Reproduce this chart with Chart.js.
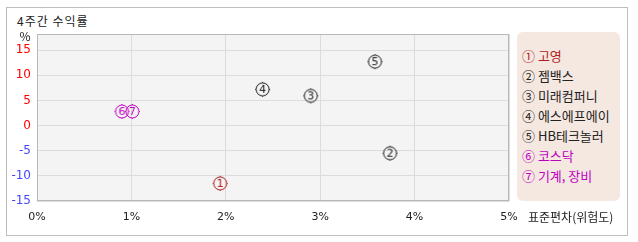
<!DOCTYPE html>
<html>
<head>
<meta charset="utf-8">
<script src="https://cdn.jsdelivr.net/npm/chart.js@4.4.1/dist/chart.umd.min.js"></script>
<style>
    body { margin: 0; background: #fff; font-family: "Noto Sans CJK KR", sans-serif; }
    #wrap { position: relative; width: 638px; height: 242px; }
    #frame { position: absolute; left: 6px; top: 7px; width: 620px; height: 227px; border: 1px solid #bdbdbd; }
    #title { position: absolute; left: 17px; top: 12px; font-size: 12px; line-height: 18px; color: #222; letter-spacing: 1px; }
    #legend { position: absolute; left: 517px; top: 32px; width: 103px; height: 169px; border-radius: 6px; background: #f5e8e1; }
    #legend div { position: absolute; left: 5px; font-size: 13px; line-height: 20px; white-space: nowrap; }
    canvas { position: absolute; left: 0; top: 0; }
</style>
</head>
<body>
<div id="wrap">
    <div id="frame"></div>
    <div id="title">4주간 수익률</div>
    <canvas id="c_scatter" width="638" height="242"></canvas>
    <div id="legend"></div>
</div>
<script>
// data
const names = ['고영', '젬백스', '미래컴퍼니', '에스에프에이', 'HB테크놀러', '코스닥', '기계, 장비']
const marks = ['①', '②', '③', '④', '⑤', '⑥', '⑦']
const riskX = [1.94, 3.74, 2.90, 2.39, 3.58, 0.90, 1.01]   // 표준편차 %
const returnY = [-11.5, -5.5, 5.9, 7.2, 12.7, 2.8, 2.8]     // 수익률 %
const pointColors = ['#b01c1c', '#222222', '#222222', '#222222', '#222222', '#c000c0', '#c000c0']
const xTicks = [0, 1, 2, 3, 4, 5]
const yTicks = [-15, -10, -5, 0, 5, 10, 15]
const xTitle = '표준편차(위험도)'
const yUnit = '%'

// legend (html)
const legendEl = document.getElementById('legend')
names.forEach(function (n, i) {
    let d = document.createElement('div')
    d.style.top = (14 + i * 20) + 'px'
    d.style.color = pointColors[i]
    d.textContent = marks[i] + ' ' + n
    legendEl.appendChild(d)
})

// circled number marker with little ticks
function makeMarker(num, color) {
    let c = document.createElement('canvas')
    c.width = 19
    c.height = 19
    let g = c.getContext('2d')
    g.strokeStyle = color
    g.fillStyle = color
    g.lineWidth = 1
    g.beginPath()
    g.arc(9.5, 9.5, 6.5, 0, Math.PI * 2)
    g.stroke()
    g.beginPath()
    g.moveTo(9.5, 2); g.lineTo(9.5, 3)
    g.moveTo(9.5, 16); g.lineTo(9.5, 17)
    g.moveTo(2, 9.5); g.lineTo(3, 9.5)
    g.moveTo(16, 9.5); g.lineTo(17, 9.5)
    g.stroke()
    g.font = '11px "DejaVu Sans", sans-serif'
    g.textAlign = 'center'
    g.textBaseline = 'middle'
    g.fillText(String(num), 9.5, 10)
    return c
}
const markerImgs = names.map((n, i) => makeMarker(i + 1, pointColors[i]))

const plotDeco = {
    id: 'plotDeco',
    beforeDraw(chart) {
        const a = chart.chartArea, ctx = chart.ctx
        ctx.save()
        ctx.fillStyle = '#f4f4f4'
        ctx.fillRect(a.left, a.top, a.right - a.left, a.bottom - a.top)
        ctx.restore()
    },
    afterDatasetsDraw(chart) {
        const a = chart.chartArea, ctx = chart.ctx
        ctx.save()
        ctx.strokeStyle = '#b8b8b8'
        ctx.lineWidth = 1
        ctx.strokeRect(a.left + 0.5, a.top + 0.5, a.right - a.left - 1, a.bottom - a.top - 1)
        ctx.font = '12px "Noto Sans CJK KR", sans-serif'
        ctx.fillStyle = '#222'
        ctx.textBaseline = 'middle'
        ctx.fillText(xTitle, a.right + 19, a.bottom + 16)
        ctx.textAlign = 'center'
        ctx.fillText(yUnit, a.left - 12, a.top + 2)
        ctx.restore()
    }
}

const ctx = document.getElementById('c_scatter').getContext('2d')
new Chart(ctx, {
    type: 'scatter',
    data: {
        datasets: [{
            data: riskX.map((x, i) => ({ x: x, y: returnY[i] })),
            pointStyle: markerImgs,
            pointRadius: 7,
            borderColor: pointColors,
            backgroundColor: pointColors
        }]
    },
    options: {
        responsive: false,
        animation: false,
        events: [],
        layout: { padding: { left: 0, top: 34, right: 129, bottom: 0 } },
        plugins: { legend: { display: false }, tooltip: { enabled: false } },
        scales: {
            x: {
                type: 'linear',
                min: 0,
                max: 5,
                afterBuildTicks: (s) => { s.ticks = xTicks.map(v => ({ value: v })) },
                afterFit: (s) => { s.height = 41 },
                grid: { color: '#dcdcdc', drawTicks: false },
                border: { display: false },
                ticks: {
                    padding: 10,
                    color: '#222',
                    font: { size: 11, family: '"DejaVu Sans", sans-serif' },
                    callback: v => v + '%'
                }
            },
            y: {
                type: 'linear',
                min: -15,
                max: 18.2,
                afterBuildTicks: (s) => { s.ticks = yTicks.map(v => ({ value: v })) },
                afterFit: (s) => { s.width = 37 },
                grid: { color: '#dcdcdc', drawTicks: false },
                border: { display: false },
                ticks: {
                    padding: 6,
                    font: { size: 12, family: '"DejaVu Sans", sans-serif' },
                    color: (c) => c.tick && c.tick.value < 0 ? '#4646ff' : '#ff0000'
                }
            }
        }
    },
    plugins: [plotDeco]
})
</script>
</body>
</html>
